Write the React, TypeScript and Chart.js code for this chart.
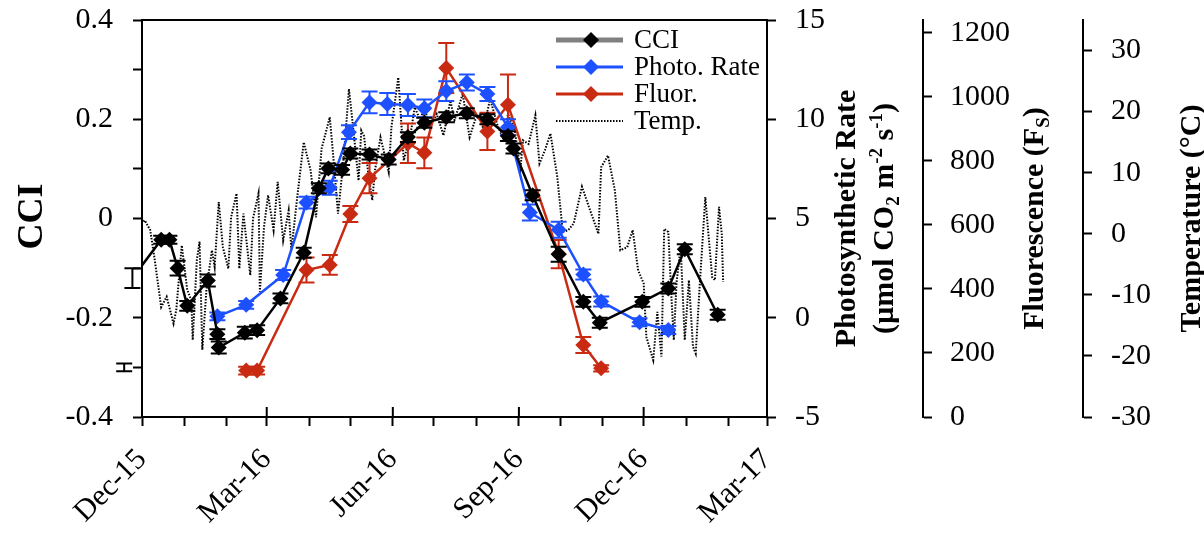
import React, { useEffect, useRef } from 'react';
import { Chart, registerables } from 'chart.js';

Chart.register(...registerables);

const FONT = "'Liberation Serif', 'Times New Roman', serif";
const BLUE = '#1d50ff';
const RED = '#c92a12';

const START = Date.UTC(2015, 11, 1);
function dayOf(s: string): number {
  const [y, m, d] = s.split('-').map(Number);
  return Math.round((Date.UTC(y, m - 1, d) - START) / 86400000);
}

// ---------- data ----------
const seriesNames = ['CCI', 'Photo. Rate', 'Fluor.', 'Temp.'];

const cciDates = ['2015-11-18', '2015-11-24', '2015-12-15', '2015-12-21', '2015-12-27', '2016-01-03', '2016-01-18', '2016-01-25', '2016-01-26', '2016-02-14', '2016-02-23', '2016-03-11', '2016-03-28', '2016-04-08', '2016-04-15', '2016-04-25', '2016-05-01', '2016-05-15', '2016-05-29', '2016-06-12', '2016-06-24', '2016-07-10', '2016-07-25', '2016-08-09', '2016-08-24', '2016-08-28', '2016-09-11', '2016-09-30', '2016-10-18', '2016-10-30', '2016-11-30', '2016-12-19', '2016-12-31', '2017-01-24'];
const cciValues = [-0.30, -0.12, -0.043, -0.043, -0.100, -0.176, -0.125, -0.233, -0.260, -0.230, -0.225, -0.161, -0.069, 0.061, 0.101, 0.098, 0.131, 0.129, 0.119, 0.164, 0.193, 0.204, 0.212, 0.200, 0.166, 0.141, 0.047, -0.072, -0.168, -0.210, -0.168, -0.141, -0.062, -0.194];
const cciErrors = [0.008, 0.02, 0.008, 0.008, 0.015, 0.01, 0.012, 0.01, 0.012, 0.012, 0.01, 0.01, 0.01, 0.01, 0.01, 0.01, 0.01, 0.01, 0.01, 0.01, 0.01, 0.01, 0.01, 0.01, 0.01, 0.01, 0.01, 0.015, 0.01, 0.01, 0.01, 0.01, 0.01, 0.01];

const photoDates = ['2016-01-25', '2016-02-15', '2016-03-13', '2016-03-30', '2016-04-16', '2016-04-30', '2016-05-15', '2016-05-28', '2016-06-12', '2016-06-24', '2016-07-10', '2016-07-25', '2016-08-09', '2016-08-24', '2016-09-09', '2016-09-30', '2016-10-18', '2016-10-31', '2016-11-28', '2016-12-19'];
const photoValues = [0.07, 0.65, 2.15, 5.8, 6.55, 9.35, 10.85, 10.77, 10.72, 10.55, 11.42, 11.85, 11.27, 9.6, 5.3, 4.43, 2.18, 0.82, -0.23, -0.62];
const photoErrors = [0.2, 0.2, 0.25, 0.3, 0.35, 0.35, 0.55, 0.55, 0.55, 0.45, 0.5, 0.4, 0.35, 0.4, 0.4, 0.4, 0.25, 0.25, 0.2, 0.2];

const fluorDates = ['2016-02-15', '2016-02-23', '2016-03-30', '2016-04-16', '2016-05-01', '2016-05-15', '2016-06-12', '2016-06-24', '2016-07-10', '2016-08-09', '2016-08-24', '2016-09-30', '2016-10-18', '2016-10-31'];
const fluorValues = [145, 145, 459, 475, 634, 746, 855, 825, 1090, 892, 975, 509, 225, 152];
const fluorErrors = [12, 12, 39, 31, 25, 47, 62, 48, 78, 58, 95, 44, 25, 10];

// daily temperature, days since 2015-12-01
const tempDays = [1, 2, 6, 9, 14, 18, 23, 25, 29, 33, 36, 37, 40, 42, 44, 47, 51, 53, 56, 59, 63, 65, 69, 71, 74, 79, 81, 85, 86, 89, 92, 96, 99, 103, 107, 109, 113, 118, 123, 127, 131, 137, 140, 143, 147, 151, 154, 158, 160, 162, 165, 168, 170, 174, 180, 182, 187, 191, 196, 199, 203, 206, 210, 215, 220, 225, 228, 234, 239, 243, 247, 249, 254, 259, 264, 267, 272, 276, 278, 282, 287, 290, 294, 298, 303, 307, 311, 315, 321, 327, 333, 335, 340, 345, 349, 354, 358, 362, 366, 368, 373, 376, 379, 381, 384, 386, 388, 390, 393, 396, 399, 402, 404, 407, 411, 413, 416, 418, 421, 423, 424];
const tempValues = [2.0, 2.2, 0.6, -3.8, -12.0, -10.3, -14.7, -12.5, -1.9, -9.2, -10.9, -17.4, -4.3, -1.3, -19.0, -9.2, -2.7, -5.4, 5.2, -2.2, -5.7, 2.7, 6.6, -5.7, 3.3, -6.8, 2.5, 6.6, -9.5, 1.1, 6.3, 0.6, 8.5, -1.1, 3.8, -2.7, 5.5, 15.0, 10.4, 2.7, 13.9, 19.1, 11.5, 3.3, 12.0, 23.7, 17.5, 8.7, 16.9, 16.0, 10.0, 5.5, 10.4, 15.8, 10.1, 17.5, 25.6, 12.0, 16.4, 20.7, 18.6, 20.7, 17.5, 19.6, 16.1, 21.8, 18.6, 22.9, 15.8, 18.6, 19.6, 16.9, 22.1, 18.0, 15.3, 19.6, 16.9, 10.4, 15.3, 14.7, 19.4, 11.5, 13.7, 16.4, 9.3, 0.3, 0.6, 1.7, 7.7, 3.8, 0.0, 10.9, 12.8, 7.1, -2.7, -2.2, 0.6, -6.0, -8.1, -16.9, -20.7, -12.8, -20.1, 0.8, 0.3, -9.2, -17.4, -8.0, -2.2, -17.4, -7.6, -18.5, -19.6, -8.1, 6.0, 0.6, -7.1, -7.6, 4.4, 0.0, -7.9];

// axes
const monthStarts = ['2015-12-01', '2016-01-01', '2016-02-01', '2016-03-01', '2016-04-01', '2016-05-01', '2016-06-01', '2016-07-01', '2016-08-01', '2016-09-01', '2016-10-01', '2016-11-01', '2016-12-01', '2017-01-01', '2017-02-01', '2017-03-01'];
const xTickDates = ['2015-12-01', '2016-03-01', '2016-06-01', '2016-09-01', '2016-12-01', '2017-03-01'];
const xTickLabels = ['Dec-15', 'Mar-16', 'Jun-16', 'Sep-16', 'Dec-16', 'Mar-17'];
const cciTicks = [-0.4, -0.3, -0.2, -0.1, 0, 0.1, 0.2, 0.3, 0.4];
const photoTicks = [-5, 0, 5, 10, 15];
const fluorTicks = [0, 200, 400, 600, 800, 1000, 1200];
const tempTicks = [-30, -20, -10, 0, 10, 20, 30];

type Seg = { t: string; k?: 'sub' | 'sup' };
const cciTitle: Seg[] = [{ t: 'CCI' }];
const photoTitle1: Seg[] = [{ t: 'Photosynthetic Rate' }];
const photoTitle2: Seg[] = [{ t: '(µmol CO' }, { t: '2', k: 'sub' }, { t: ' m' }, { t: '-2', k: 'sup' }, { t: ' s' }, { t: '-1', k: 'sup' }, { t: ')' }];
const fluorTitle: Seg[] = [{ t: 'Fluorescence (F' }, { t: 'S', k: 'sub' }, { t: ')' }];
const tempTitle: Seg[] = [{ t: 'Temperature (°C)' }];

// ---------- helpers ----------
const pts = (dates: string[], vals: number[]) => dates.map((d, i) => ({ x: dayOf(d), y: vals[i] }));

function drawRotated(ctx: CanvasRenderingContext2D, segs: Seg[], cx: number, cy: number, size: number) {
  ctx.save();
  ctx.translate(cx, cy);
  ctx.rotate(-Math.PI / 2);
  const fontFor = (s: Seg) => `bold ${s.k ? Math.round(size * 0.62) : size}px ${FONT}`;
  let total = 0;
  for (const s of segs) { ctx.font = fontFor(s); total += ctx.measureText(s.t).width; }
  let x = -total / 2;
  const base = size * 0.33;
  ctx.fillStyle = '#000';
  ctx.textBaseline = 'alphabetic';
  ctx.textAlign = 'left';
  for (const s of segs) {
    ctx.font = fontFor(s);
    const y = base + (s.k === 'sub' ? size * 0.2 : s.k === 'sup' ? -size * 0.38 : 0);
    ctx.fillText(s.t, x, y);
    x += ctx.measureText(s.t).width;
  }
  ctx.restore();
}

function diamond(ctx: CanvasRenderingContext2D, x: number, y: number, r: number, color: string) {
  ctx.beginPath();
  ctx.moveTo(x, y - r); ctx.lineTo(x + r, y); ctx.lineTo(x, y + r); ctx.lineTo(x - r, y); ctx.closePath();
  ctx.fillStyle = color; ctx.fill();
}

const errorBarPlugin = {
  id: 'errorBars',
  afterDatasetDraw(chart: any, args: any) {
    const ds: any = chart.data.datasets[args.index];
    if (!ds.errors) return;
    const xs = chart.scales.x;
    const ys = chart.scales[ds.yAxisID];
    const ctx = chart.ctx;
    ctx.save();
    ctx.strokeStyle = ds.borderColor;
    ctx.lineWidth = 2;
    ds.data.forEach((p: any, i: number) => {
      const e = ds.errors[i];
      if (!e) return;
      const px = xs.getPixelForValue(p.x);
      const y1 = ys.getPixelForValue(p.y - e);
      const y2 = ys.getPixelForValue(p.y + e);
      ctx.beginPath();
      ctx.moveTo(px, y1); ctx.lineTo(px, y2);
      ctx.moveTo(px - 8, y1); ctx.lineTo(px + 8, y1);
      ctx.moveTo(px - 8, y2); ctx.lineTo(px + 8, y2);
      ctx.stroke();
    });
    ctx.restore();
  },
};

const decorPlugin = {
  id: 'decor',
  afterDraw(chart: any) {
    const { ctx, chartArea, scales } = chart;
    ctx.save();
    // top frame line and inner major x ticks
    ctx.strokeStyle = '#000';
    ctx.lineWidth = 2;
    ctx.beginPath();
    ctx.moveTo(chartArea.left - 1, chartArea.top);
    ctx.lineTo(chartArea.right + 1, chartArea.top);
    xTickDates.forEach((d) => {
      const px = scales.x.getPixelForValue(dayOf(d));
      ctx.moveTo(px, chartArea.bottom);
      ctx.lineTo(px, chartArea.bottom - 10);
    });
    ctx.stroke();

    // legend
    const colors = ['#808080', BLUE, RED, '#000'];
    const markers = ['#000', BLUE, RED, null];
    const widths = [5, 3, 3, 2];
    const x0 = chartArea.right - 211, x1 = chartArea.right - 144, xm = chartArea.right - 176, xt = chartArea.right - 133;
    seriesNames.forEach((name, i) => {
      const y = chartArea.top + 20 + i * 27;
      ctx.beginPath();
      ctx.strokeStyle = colors[i];
      ctx.lineWidth = widths[i];
      ctx.setLineDash(i === 3 ? [1.5, 1.5] : []);
      ctx.moveTo(x0, y); ctx.lineTo(x1, y);
      ctx.stroke();
      ctx.setLineDash([]);
      const m = markers[i];
      if (m) diamond(ctx, xm, y, 8, m);
      ctx.fillStyle = '#000';
      ctx.font = `27px ${FONT}`;
      ctx.textAlign = 'left';
      ctx.textBaseline = 'middle';
      ctx.fillText(name, xt, y + 1);
    });
    ctx.restore();

    // axis titles
    const midY = (chartArea.top + chartArea.bottom) / 2;
    drawRotated(ctx, cciTitle, chartArea.left - 112, midY - 2, 36);
    drawRotated(ctx, photoTitle1, scales.yPhoto.left + 78, midY, 30);
    drawRotated(ctx, photoTitle2, scales.yPhoto.left + 116, midY, 30);
    drawRotated(ctx, fluorTitle, scales.yFluor.left + 110, midY, 30);
    drawRotated(ctx, tempTitle, scales.yTemp.left + 107, midY, 30);
  },
};

const tickFont = { family: FONT, size: 30 };
const gridOpts = { drawOnChartArea: false, drawTicks: true, tickLength: 9, tickColor: '#000', tickWidth: 2 };
const borderOpts = { display: true, color: '#000', width: 2 };

function yAxis(position: string, min: number, max: number, ticks: number[], width: number, padding: number, cb?: (v: number) => string) {
  return {
    type: 'linear',
    position,
    min,
    max,
    afterBuildTicks: (s: any) => { s.ticks = ticks.map((v) => ({ value: v })); },
    afterFit: (s: any) => { s.width = width; s.paddingTop = 0; s.paddingBottom = 0; },
    ticks: { padding, color: '#000', font: tickFont, callback: cb || ((v: number) => String(v)) },
    grid: gridOpts,
    border: borderOpts,
    title: { display: false },
  };
}

export default function App() {
  const ref = useRef<HTMLCanvasElement>(null);
  useEffect(() => {
    document.body.style.margin = '0';
    const xTickDays = xTickDates.map(dayOf);
    const chart = new Chart(ref.current as HTMLCanvasElement, {
      type: 'line',
      data: {
        datasets: [
          {
            label: seriesNames[0], data: pts(cciDates, cciValues), errors: cciErrors, yAxisID: 'y',
            borderColor: '#000', backgroundColor: '#000', borderWidth: 2.5,
            pointStyle: 'rectRot', pointRadius: 8, pointBackgroundColor: '#000', pointBorderColor: '#000', pointBorderWidth: 0,
            order: 0,
          } as any,
          {
            label: seriesNames[1], data: pts(photoDates, photoValues), errors: photoErrors, yAxisID: 'yPhoto',
            borderColor: BLUE, backgroundColor: BLUE, borderWidth: 2.5,
            pointStyle: 'rectRot', pointRadius: 8, pointBackgroundColor: BLUE, pointBorderColor: BLUE, pointBorderWidth: 0,
            order: 1,
          } as any,
          {
            label: seriesNames[2], data: pts(fluorDates, fluorValues), errors: fluorErrors, yAxisID: 'yFluor',
            borderColor: RED, backgroundColor: RED, borderWidth: 2.5,
            pointStyle: 'rectRot', pointRadius: 8, pointBackgroundColor: RED, pointBorderColor: RED, pointBorderWidth: 0,
            order: 2,
          } as any,
          {
            label: seriesNames[3], data: tempDays.map((d, i) => ({ x: d, y: tempValues[i] })), yAxisID: 'yTemp',
            borderColor: '#000', borderWidth: 2, borderDash: [1.5, 1.5], pointRadius: 0, tension: 0,
            order: 3,
          } as any,
        ],
      },
      options: {
        responsive: false,
        animation: false,
        devicePixelRatio: 1,
        layout: { padding: { top: 20, left: 0, right: 0, bottom: 0 } },
        plugins: { legend: { display: false }, tooltip: { enabled: false } },
        scales: {
          x: {
            type: 'linear',
            min: 0,
            max: dayOf('2017-03-01'),
            afterBuildTicks: (s: any) => { s.ticks = monthStarts.map((d) => ({ value: dayOf(d) })); },
            afterFit: (s: any) => { s.height = 116; },
            ticks: {
              autoSkip: false, maxRotation: 45, minRotation: 45, padding: 16, color: '#000', font: tickFont,
              callback: (v: any) => { const i = xTickDays.indexOf(Number(v)); return i >= 0 ? xTickLabels[i] : ''; },
            },
            grid: gridOpts,
            border: borderOpts,
          },
          y: yAxis('left', -0.4, 0.4, cciTicks, 142, 20, (v: number) => { const r = Math.round(v * 10); return r % 2 === 0 ? String(r / 10) : ''; }),
          yPhoto: yAxis('right', -5, 15, photoTicks, 156, 19),
          yFluor: yAxis('right', 0, 1240, fluorTicks, 160, 18),
          yTemp: yAxis('right', -30, 35, tempTicks, 121, 19),
        } as any,
      },
      plugins: [errorBarPlugin, decorPlugin],
    } as any);
    return () => chart.destroy();
  }, []);
  return (
    <div style={{ width: 1204, height: 533 }}>
      <canvas ref={ref} width={1204} height={533} style={{ display: 'block' }} />
    </div>
  );
}
